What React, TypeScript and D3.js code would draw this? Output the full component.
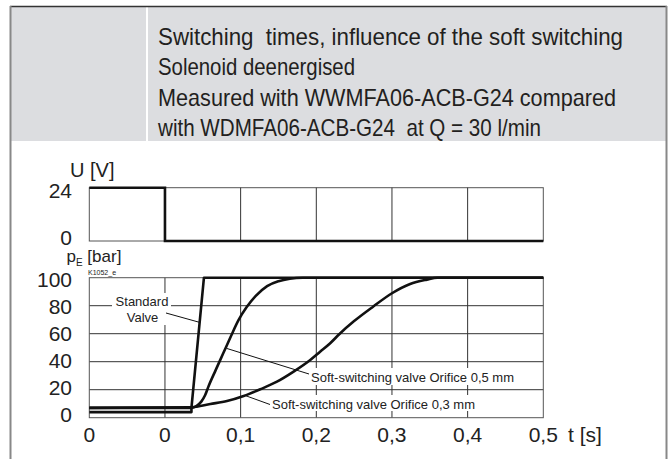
import React, { useEffect, useRef } from 'react';
import * as d3 from 'd3';

// header text (condensed face is emulated by squeezing Liberation Sans)
const titleLines = [
  'Switching  times, influence of the soft switching',
  'Solenoid deenergised',
  'Measured with WWMFA06-ACB-G24 compared',
  'with WDMFA06-ACB-G24  at Q = 30 l/min',
];
const titleWidths = [465, 197, 458, 383];

// time axis (first column is the time before switching off)
const timeTicks = [-0.1, 0, 0.1, 0.2, 0.3, 0.4, 0.5];
const timeLabels = ['0', '0', '0,1', '0,2', '0,3', '0,4', '0,5'];
const voltageTicks = [0, 24];
const pressureTicks = [0, 20, 40, 60, 80, 100];

// U [V]
const voltageTime = [-0.1, 0, 0, 0.5];
const voltageValues = [24, 24, 0, 0];

// p_E [bar]
const standardTime = [-0.1, 0.035, 0.035, 0.0515, 0.5];
const standardValues = [4, 4, 7, 100, 100];

const soft05Time = [-0.1, 0.035, 0.042, 0.048, 0.053, 0.058, 0.067, 0.077, 0.087, 0.097, 0.108, 0.12, 0.135, 0.15, 0.165, 0.182, 0.5];
const soft05Values = [7, 7, 8.5, 11.5, 16, 23, 34, 46, 58, 69.5, 79, 87, 94, 97.5, 99.3, 100, 100];

const soft03Time = [-0.1, 0.035, 0.06, 0.082, 0.104, 0.126, 0.148, 0.17, 0.192, 0.205, 0.218, 0.231, 0.25, 0.275, 0.3, 0.324, 0.346, 0.36, 0.5];
const soft03Values = [7, 7.5, 9.8, 11.9, 15.5, 20.3, 25.7, 32.9, 41.2, 47.1, 53, 60, 69, 79.3, 88.9, 95.5, 98.6, 100, 100];

const App: React.FC = () => {
  const svgRef = useRef<SVGSVGElement | null>(null);

  useEffect(() => {
    document.body.style.margin = '0';
    const svg = d3.select(svgRef.current);
    svg.selectAll('*').remove();

    const W = 671;
    const H = 459;
    svg.attr('width', W).attr('height', H);

    // frame + header
    svg.append('rect').attr('x', 11).attr('y', 7).attr('width', 655).attr('height', 134).attr('fill', '#dcdde0');
    svg.append('rect').attr('x', 146).attr('y', 7).attr('width', 2).attr('height', 134).attr('fill', '#fff');
    svg.append('line').attr('x1', 10).attr('x2', 667).attr('y1', 6.5).attr('y2', 6.5).attr('stroke', '#333').attr('stroke-width', 1.5);
    svg.append('line').attr('x1', 10.5).attr('x2', 10.5).attr('y1', 6).attr('y2', H).attr('stroke', '#888').attr('stroke-width', 2);
    svg.append('line').attr('x1', 666.5).attr('x2', 666.5).attr('y1', 6).attr('y2', H).attr('stroke', '#888').attr('stroke-width', 2);

    svg.append('g')
      .selectAll('text')
      .data(titleLines)
      .enter()
      .append('text')
      .attr('x', 158)
      .attr('y', (d, i) => 44.5 + i * 30.6)
      .attr('font-family', '"Liberation Sans", Arial, sans-serif')
      .attr('font-size', 24)
      .attr('fill', '#231f20')
      .attr('textLength', (d, i) => titleWidths[i])
      .attr('lengthAdjust', 'spacingAndGlyphs')
      .style('white-space', 'pre')
      .text((d) => d);

    const x = d3.scaleLinear().domain([-0.1, 0.5]).range([89.3, 543.3]);
    const yU = d3.scaleLinear().domain([0, 24]).range([241, 187.7]);
    const yP = d3.scaleLinear().domain([0, 100]).range([417.7, 277.7]);

    const font = '"Liberation Sans", Arial, sans-serif';
    const gridColor = '#333';

    // ---- voltage panel
    const gU = svg.append('g');
    gU.append('rect')
      .attr('x', x(-0.1)).attr('y', yU(24))
      .attr('width', x(0.5) - x(-0.1)).attr('height', yU(0) - yU(24))
      .attr('fill', 'none').attr('stroke', '#555').attr('stroke-width', 1);
    gU.selectAll('line.v')
      .data(timeTicks.slice(1, -1))
      .enter()
      .append('line')
      .attr('x1', (d) => x(d)).attr('x2', (d) => x(d))
      .attr('y1', yU(24)).attr('y2', yU(0))
      .attr('stroke', gridColor).attr('stroke-width', 1);

    const uLine = d3.line<number>()
      .x((d, i) => x(voltageTime[i]))
      .y((d) => yU(d));
    gU.append('path')
      .attr('d', uLine(voltageValues))
      .attr('fill', 'none').attr('stroke', '#111').attr('stroke-width', 2.6);

    gU.selectAll('text.tick')
      .data(voltageTicks)
      .enter()
      .append('text')
      .attr('x', 72).attr('y', (d) => (d === 0 ? yU(d) + 3.5 : yU(d) + 10))
      .attr('text-anchor', 'end')
      .attr('font-family', font).attr('font-size', 21).attr('fill', '#222')
      .text((d) => d);
    gU.append('text')
      .attr('x', 70).attr('y', 177)
      .attr('font-family', font).attr('font-size', 20).attr('fill', '#222')
      .text('U [V]');

    // ---- pressure panel
    const gP = svg.append('g');
    gP.selectAll('line.h')
      .data(pressureTicks.slice(1, -1))
      .enter()
      .append('line')
      .attr('x1', x(-0.1)).attr('x2', x(0.5))
      .attr('y1', (d) => yP(d)).attr('y2', (d) => yP(d))
      .attr('stroke', gridColor).attr('stroke-width', 1);
    gP.selectAll('line.v')
      .data(timeTicks.slice(1, -1))
      .enter()
      .append('line')
      .attr('x1', (d) => x(d)).attr('x2', (d) => x(d))
      .attr('y1', yP(100)).attr('y2', yP(0))
      .attr('stroke', gridColor).attr('stroke-width', 1);
    gP.append('rect')
      .attr('x', x(-0.1)).attr('y', yP(100))
      .attr('width', x(0.5) - x(-0.1)).attr('height', yP(0) - yP(100))
      .attr('fill', 'none').attr('stroke', '#555').attr('stroke-width', 1);

    // label backgrounds hide the grid behind them
    const labels = [
      { lines: ['Standard', 'Valve'], xs: [142, 142.5], ys: [306, 321.5], bg: [112, 293, 59, 32] },
      { lines: ['Soft-switching valve Orifice 0,5 mm'], xs: [311], ys: [381.5], bg: [307, 368, 216, 17], start: true },
      { lines: ['Soft-switching valve Orifice 0,3 mm'], xs: [272], ys: [408.5], bg: [268, 395, 214, 16], start: true },
    ];
    labels.forEach((l) => {
      gP.append('rect')
        .attr('x', l.bg[0]).attr('y', l.bg[1]).attr('width', l.bg[2]).attr('height', l.bg[3])
        .attr('fill', '#fff');
    });

    // leader lines (from a point on each curve to its label)
    const leaders = [
      { t: 0.0465, v: 68, x2: 166, y2: 313 },
      { t: 0.0815, v: 49.5, x2: 309, y2: 374 },
      { t: 0.1057, v: 15.9, x2: 270, y2: 404.5 },
    ];
    leaders.forEach((d) => {
      gP.append('line')
        .attr('x1', x(d.t)).attr('y1', yP(d.v))
        .attr('x2', d.x2).attr('y2', d.y2)
        .attr('stroke', '#111').attr('stroke-width', 1);
    });

    labels.forEach((l) => {
      l.lines.forEach((s, i) => {
        gP.append('text')
          .attr('x', l.xs[i]).attr('y', l.ys[i])
          .attr('text-anchor', l.start ? 'start' : 'middle')
          .attr('font-family', font).attr('font-size', 13).attr('fill', '#222')
          .text(s);
      });
    });

    const series = [
      { t: soft03Time, v: soft03Values },
      { t: soft05Time, v: soft05Values },
      { t: standardTime, v: standardValues, linear: true },
    ];
    series.forEach((s) => {
      const line = d3.line<number>()
        .x((d, i) => x(s.t[i]))
        .y((d) => yP(d))
        .curve(s.linear ? d3.curveLinear : d3.curveMonotoneX);
      gP.append('path')
        .attr('d', line(s.v))
        .attr('fill', 'none').attr('stroke', '#111').attr('stroke-width', 2.6)
        .attr('stroke-linejoin', 'round');
    });

    // tick labels sit on a slightly tighter pitch than the grid
    gP.selectAll('text.ytick')
      .data(pressureTicks)
      .enter()
      .append('text')
      .attr('x', 72).attr('y', (d) => yP(d) + 4 + d * 0.05)
      .attr('text-anchor', 'end')
      .attr('font-family', font).attr('font-size', 21).attr('fill', '#222')
      .text((d) => d);

    gP.selectAll('text.xtick')
      .data(timeTicks)
      .enter()
      .append('text')
      .attr('x', (d) => x(d)).attr('y', 442)
      .attr('text-anchor', 'middle')
      .attr('font-family', font).attr('font-size', 21).attr('fill', '#222')
      .text((d, i) => timeLabels[i]);
    gP.append('text')
      .attr('x', 568).attr('y', 442)
      .attr('font-family', font).attr('font-size', 21).attr('fill', '#222')
      .text('t [s]');

    // axis title p_E [bar]
    const pt = gP.append('text')
      .attr('x', 66.5).attr('y', 261.5)
      .attr('font-family', font).attr('font-size', 17).attr('fill', '#222');
    pt.append('tspan').text('p');
    pt.append('tspan').attr('font-size', 10).attr('dy', 4).text('E');
    pt.append('tspan').attr('dy', -4).text(' [bar]');

    gP.append('text')
      .attr('x', 88).attr('y', 274.5)
      .attr('font-family', font).attr('font-size', 7).attr('fill', '#222')
      .text('K1052_e');
  }, []);

  return <svg ref={svgRef} style={{ display: 'block' }}></svg>;
};

export default App;
